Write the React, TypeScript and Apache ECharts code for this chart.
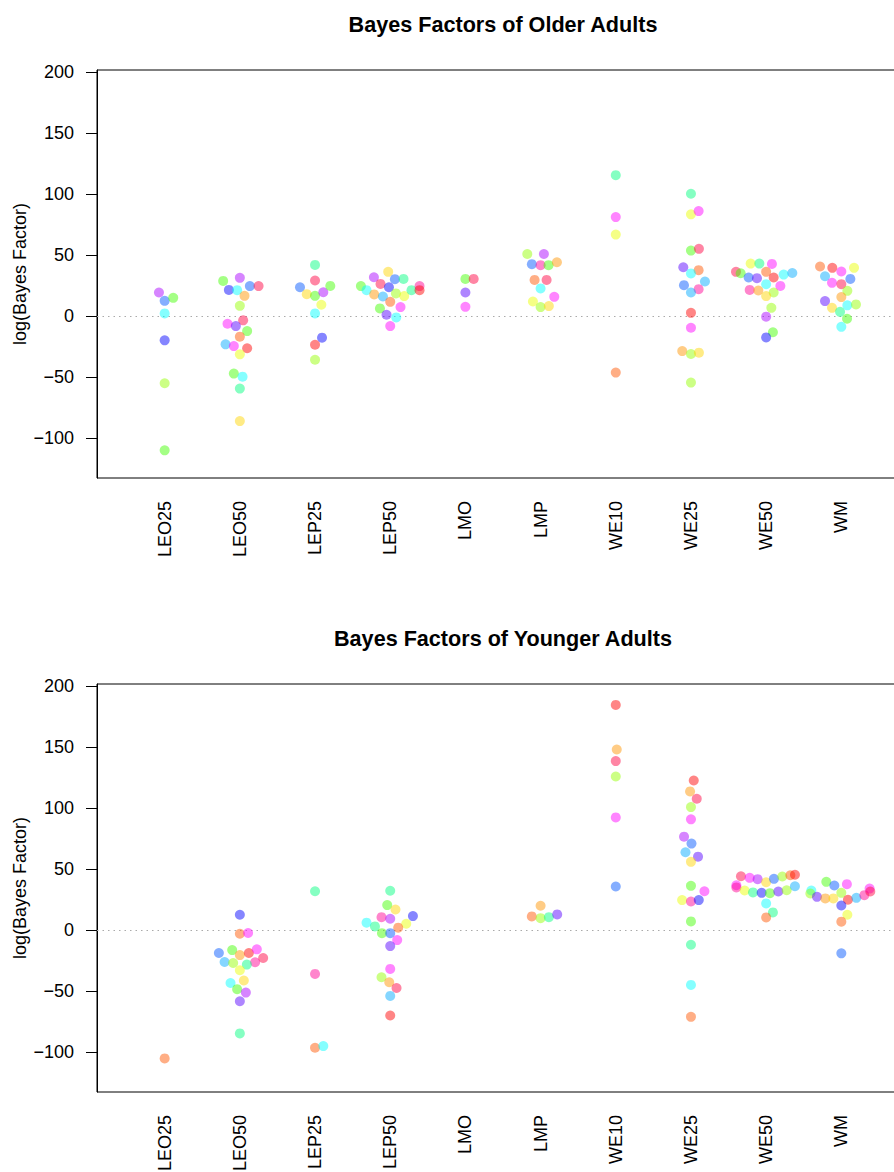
import React, { useEffect, useRef } from "react";
import * as echarts from "echarts";

// ---------- data ----------
const categories = ["LEO25", "LEO50", "LEP25", "LEP50", "LMO", "LMP", "WE10", "WE25", "WE50", "WM"];
const yTicks = [-100, -50, 0, 50, 100, 150, 200];
const titles = ["Bayes Factors of Older Adults", "Bayes Factors of Younger Adults"];
const yName = "log(Bayes Factor)";

// colour hues (index used by each point)
const hues = [0, 20, 35, 50, 65, 85, 105, 150, 180, 200, 220, 240, 260, 280, 300, 325, 345];

// each point: [swarm offset (category units), log Bayes factor, colour index]
const olderLEO25 = [[-0.076, 19.4, 13], [0, 12.5, 10], [0.114, 15.0, 6], [0, 2.2, 8], [0, -19.9, 11], [0, -55.1, 5], [0, -110.2, 6]];
const olderLEO50 = [[-0.222, 28.9, 6], [0, 31.4, 13], [-0.146, 21.5, 11], [-0.036, 21.3, 8], [0.133, 24.6, 10], [0.249, 24.6, 16], [0.062, 16.6, 2], [0, 8.4, 5], [0.044, -3.5, 16], [-0.164, -6.3, 14], [-0.053, -8.2, 12], [0.097, -12.3, 6], [0, -16.9, 1], [-0.19, -23.2, 9], [-0.08, -24.6, 14], [0.097, -26.4, 0], [0, -31.4, 4], [-0.08, -47.2, 6], [0.036, -49.7, 8], [0, -59.5, 7], [0, -86.2, 3]];
const olderLEP25 = [[0, 42.0, 7], [0, 29.2, 16], [-0.2, 23.7, 10], [-0.11, 18.0, 3], [0, 16.6, 6], [0.11, 19.6, 13], [0.203, 24.8, 6], [0.084, 9.3, 4], [0, 2.2, 8], [0.093, -17.7, 11], [0, -23.5, 0], [0, -35.8, 5]];
const olderLEP50 = [[-0.217, 31.9, 13], [-0.027, 36.3, 3], [0.062, 30.3, 10], [0.177, 30.5, 7], [-0.39, 24.6, 6], [-0.315, 21.3, 8], [-0.129, 26.4, 16], [-0.017, 23.7, 11], [-0.213, 17.8, 2], [-0.097, 16.1, 9], [0.076, 18.6, 5], [0.186, 16.4, 4], [0.283, 21.3, 7], [0.39, 24.6, 15], [0.39, 21.3, 0], [0, 11.7, 1], [-0.137, 6.3, 6], [0.137, 7.4, 14], [-0.049, 1.1, 12], [0.08, -1.1, 8], [0, -8.2, 14]];
const olderLMO = [[0, 30.5, 6], [0.11, 30.5, 16], [0, 19.4, 12], [0, 7.6, 14]];
const olderLMP = [[-0.177, 51.0, 5], [0.044, 51.0, 13], [-0.116, 42.6, 10], [0, 41.8, 15], [0.106, 41.8, 6], [0.217, 44.2, 2], [-0.08, 29.7, 1], [0.08, 29.7, 16], [0, 22.7, 8], [0.182, 15.8, 14], [-0.102, 12.0, 4], [0, 7.4, 5], [0.11, 8.2, 3]];
const olderWE10 = [[0, 115.7, 7], [0, 81.3, 14], [0, 66.9, 4], [0, -46.4, 1]];
const olderWE25 = [[0, 100.4, 7], [0, 83.5, 4], [0.102, 86.2, 14], [0, 53.8, 6], [0.106, 55.2, 16], [-0.102, 40.1, 12], [0.102, 37.7, 1], [0, 35.0, 8], [-0.093, 25.4, 10], [0.186, 28.4, 9], [0.102, 22.1, 15], [0, 19.4, 9], [0, 2.7, 0], [0, -9.6, 14], [-0.116, -28.7, 2], [0, -31.1, 5], [0.106, -30.0, 3], [0, -54.6, 5]];
const olderWE50 = [[-0.206, 43.1, 4], [-0.09, 43.1, 7], [0.077, 42.8, 14], [-0.401, 36.3, 16], [-0.339, 35.2, 6], [0, 36.3, 1], [-0.233, 31.7, 10], [-0.122, 31.1, 12], [0.1, 31.7, 0], [0.233, 34.1, 8], [0.348, 35.4, 9], [0, 26.2, 8], [0.189, 24.8, 14], [-0.219, 21.5, 15], [-0.104, 21.0, 2], [0.1, 19.4, 5], [0, 16.4, 3], [0.069, 6.8, 5], [0, -0.5, 13], [0.09, -13.3, 6], [0, -17.5, 11]];
const olderWM = [[-0.283, 40.7, 1], [-0.12, 39.6, 0], [0, 36.6, 14], [0.169, 39.6, 4], [-0.217, 32.7, 9], [0.12, 30.5, 10], [-0.124, 27.3, 14], [0, 26.2, 16], [0.08, 20.7, 5], [0, 15.6, 2], [-0.217, 12.3, 12], [-0.124, 6.8, 3], [-0.017, 3.5, 7], [0.08, 8.8, 8], [0.195, 9.6, 5], [0.076, -2.2, 6], [0, -8.8, 8]];

const youngerLEO25 = [[0, -105.3, 1]];
const youngerLEO50 = [[0, 12.6, 11], [0, -3.0, 1], [0.11, -2.4, 14], [-0.279, -18.8, 10], [-0.102, -16.4, 6], [0, -20.5, 2], [0.12, -18.8, 0], [0.226, -15.8, 14], [0.31, -22.9, 16], [0.203, -26.4, 15], [-0.203, -26.2, 9], [-0.089, -27.0, 5], [0.093, -28.3, 7], [0, -33.0, 4], [-0.124, -43.4, 8], [0.053, -41.4, 3], [-0.036, -48.5, 6], [0.08, -51.3, 13], [0, -58.4, 12], [0, -84.8, 7]];
const youngerLEP25 = [[0, 31.9, 7], [0, -36.0, 15], [0, -96.6, 1], [0.11, -95.2, 8]];
const youngerLEP50 = [[0, 32.3, 7], [-0.04, 20.5, 6], [0.07, 16.9, 3], [-0.116, 10.6, 15], [0, 9.3, 13], [0.302, 11.5, 11], [-0.315, 6.1, 8], [-0.203, 3.0, 7], [0.213, 5.2, 4], [0.106, 2.0, 1], [-0.11, -2.5, 6], [0, -2.5, 10], [0.093, -8.2, 14], [0, -13.1, 12], [0, -31.9, 14], [-0.116, -38.7, 5], [-0.013, -42.8, 2], [0.084, -47.5, 16], [0, -54.0, 9], [0, -70.1, 0]];
const youngerLMO: number[][] = [];
const youngerLMP = [[0, 20.0, 2], [-0.117, 11.2, 1], [0, 9.8, 5], [0.11, 10.6, 7], [0.221, 12.9, 12]];
const youngerWE10 = [[0, 184.8, 0], [0.013, 148.2, 2], [0, 138.7, 16], [0, 126.1, 5], [0, 92.5, 14], [0, 35.8, 10]];
const youngerWE25 = [[0.037, 122.8, 0], [-0.012, 113.8, 2], [0.077, 107.8, 16], [0, 101.0, 5], [0, 90.9, 14], [-0.092, 76.7, 13], [0.007, 71.0, 10], [-0.073, 63.9, 9], [0.094, 60.3, 12], [0, 56.0, 3], [0, 36.3, 6], [0.179, 31.9, 14], [-0.118, 24.6, 4], [0, 23.5, 15], [0.104, 24.6, 11], [0, 7.1, 6], [0, -12.0, 7], [0, -45.0, 8], [0, -71.2, 1]];
const youngerWE50 = [[-0.335, 44.2, 16], [-0.219, 42.9, 14], [-0.113, 41.8, 13], [0, 39.3, 3], [0.104, 42.1, 10], [0.215, 44.0, 5], [0.322, 45.0, 1], [0.383, 45.4, 0], [-0.396, 36.8, 14], [-0.396, 35.0, 15], [-0.286, 32.5, 4], [-0.175, 30.9, 7], [-0.06, 30.6, 11], [0.05, 30.3, 6], [0.162, 31.7, 12], [0.273, 32.7, 5], [0.383, 36.0, 9], [0, 21.9, 8], [0.09, 14.5, 7], [0, 10.4, 1]];
const youngerWM = [[-0.2, 39.6, 6], [-0.093, 36.6, 10], [0.074, 37.7, 14], [-0.399, 32.5, 8], [-0.412, 30.0, 5], [-0.324, 27.3, 12], [-0.213, 26.0, 2], [-0.106, 26.0, 3], [0, 30.6, 5], [0.088, 24.9, 0], [0.2, 26.5, 9], [0.306, 28.7, 15], [0.376, 34.1, 14], [0.385, 31.7, 16], [0, 20.2, 11], [0.08, 12.6, 4], [0, 6.9, 1], [0, -19.1, 10]];

const olderPanel = [olderLEO25, olderLEO50, olderLEP25, olderLEP50, olderLMO, olderLMP, olderWE10, olderWE25, olderWE50, olderWM];
const youngerPanel = [youngerLEO25, youngerLEO50, youngerLEP25, youngerLEP50, youngerLMO, youngerLMP, youngerWE10, youngerWE25, youngerWE50, youngerWM];

// ---------- chart ----------
const FONT = "'Liberation Sans', Arial, Helvetica, sans-serif";
const palette = hues.map((h) => `hsla(${h},100%,50%,0.6)`);
const catPositions = categories.map((_, i) => i + 1);

export default function App() {
  const ref = useRef<HTMLDivElement>(null);

  useEffect(() => {
    if (!ref.current) return;
    const chart = echarts.init(ref.current, null, { renderer: "svg" });
    const panels = [olderPanel, youngerPanel];
    const gridTops = [70, 684];

    const series: any[] = [];
    panels.forEach((panel, pi) => {
      panel.forEach((pts, ci) => {
        const s: any = {
          type: "scatter",
          xAxisIndex: pi,
          yAxisIndex: pi,
          symbol: "circle",
          symbolSize: 10,
          data: pts.map((p) => ({
            value: [ci + 1 + p[0], p[1]],
            itemStyle: { color: palette[p[2]] },
          })),
          z: 3,
        };
        if (ci === 0) {
          s.markLine = {
            silent: true,
            symbol: ["none", "none"],
            label: { show: false },
            lineStyle: { color: "#aaaaaa", type: [1.5, 4], width: 1 },
            data: [{ yAxis: 0 }],
            z: 1,
          };
        }
        series.push(s);
      });
    });

    const option: any = {
      animation: false,
      backgroundColor: "#ffffff",
      title: titles.map((t, i) => ({
        text: t,
        left: 503,
        top: i === 0 ? 13 : 627,
        padding: 0,
        textAlign: "center",
        textStyle: { fontSize: 21.6, fontWeight: "bold", color: "#000", fontFamily: FONT },
      })),
      grid: gridTops.map((top) => ({
        left: 97,
        top,
        width: 812,
        height: 408,
        outerBoundsMode: "none",
        containLabel: false,
        show: true,
        borderColor: "#000",
        borderWidth: 1,
        backgroundColor: "transparent",
      })),
      xAxis: gridTops.map((_, i) => ({
        type: "value",
        gridIndex: i,
        min: 0.1,
        max: 10.9,
        axisLine: { show: false },
        axisTick: { show: false },
        splitLine: { show: false },
        axisLabel: {
          customValues: catPositions,
          formatter: (v: number) => categories[Math.round(v) - 1] ?? "",
          rotate: 90,
          margin: 23,
          fontSize: 18,
          color: "#000",
          fontFamily: FONT,
        },
      })),
      yAxis: gridTops.map((_, i) => ({
        type: "value",
        gridIndex: i,
        min: -132.9,
        max: 202,
        name: yName,
        nameLocation: "middle",
        nameRotate: 90,
        nameGap: 68,
        nameMoveOverlap: false,
        nameTextStyle: { fontSize: 18, color: "#000", fontFamily: FONT },
        axisLine: { show: true, lineStyle: { color: "#000", width: 1 } },
        axisTick: { show: true, length: 11, customValues: yTicks, lineStyle: { color: "#000", width: 1 } },
        splitLine: { show: false },
        axisLabel: {
          customValues: yTicks,
          formatter: (v: number) => String(v).replace("-", "\u2212"),
          margin: 23,
          fontSize: 18,
          color: "#000",
          fontFamily: FONT,
        },
      })),
      series,
    };

    chart.setOption(option);
    return () => chart.dispose();
  }, []);

  return (
    <div
      style={{ position: "absolute", left: 0, top: 0, width: 894, height: 1172, overflow: "hidden", background: "#fff" }}
    >
      <div ref={ref} style={{ width: 930, height: 1172 }} />
    </div>
  );
}
